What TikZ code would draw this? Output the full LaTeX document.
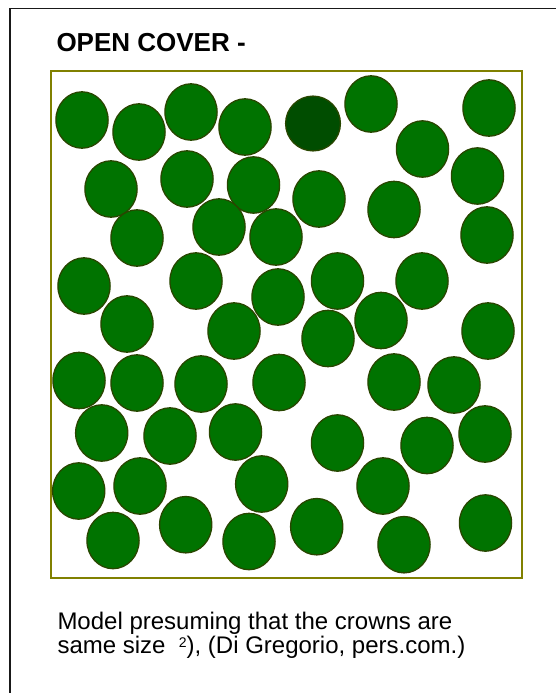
\documentclass[tikz,border=0pt]{standalone}
\usepackage{fontspec}
\setmainfont{Liberation Sans}
\definecolor{crown}{RGB}{0,115,0}
\definecolor{crowndark}{RGB}{0,77,0}
\definecolor{crownedge}{RGB}{40,70,0}
\definecolor{plotedge}{RGB}{128,128,0}
\begin{document}
\begin{tikzpicture}[x=1pt,y=-1pt,
  crownstyle/.style={fill=crown,draw=crownedge,line width=1.3pt},
  textstyle/.style={anchor=base west,inner sep=0pt,outer sep=0pt}]
\useasboundingbox (0,0) rectangle (556,693);
\clip (0,0) rectangle (556,693);
% outer frame (only top and left edges visible)
\draw[line width=1.9pt, draw=black!90] (10.3,8.5) rectangle (600,740);
% title
\node[textstyle, font=\fontsize{26}{30}\selectfont\bfseries] (title) at (56.5,51.7) {OPEN COVER -};
% plot square
\draw[plotedge, line width=1.6pt] (50.7,71) rectangle (522,578);
% crowns
\foreach \cx/\cy in {
  82/120, 139/132, 191/112, 245/127, 371/104, 489/108, 422.5/149,
  111/189, 187/179, 253.5/185, 319/199, 394/209.5, 477.5/176,
  137/238, 219/227, 276/237, 487/235,
  84/286, 127/324, 196/281, 278/297, 337.5/281, 422/281,
  234/331, 328/338.5, 381/320.5, 488/331,
  79/380.5, 137/383, 201/384, 279/382.5, 394/382, 454/385,
  101.7/433, 170/436, 235.5/432, 337.5/443, 427/445.5, 485/434,
  78.7/491, 140/486, 261.7/484, 383/486,
  113/540.5, 185.7/524.7, 249/541.5, 316.7/526.7, 404/544.7, 485.5/523}
  \draw[crownstyle] (\cx,\cy) ellipse [x radius=26.1, y radius=28.2];
\draw[crownstyle, fill=crowndark] (313,123.5) circle [radius=27.4];
% caption
\node[textstyle, font=\fontsize{24}{28}\selectfont] (cap1) at (57.5,629.5)
  {Model presuming that the crowns are};
\node[textstyle, font=\fontsize{24}{28}\selectfont] (cap2) at (57.5,653.5)
  {same size\ \ \raisebox{6.5pt}{\fontsize{14}{14}\selectfont 2}), (Di Gregorio, pers.com.)};
\end{tikzpicture}
\end{document}
